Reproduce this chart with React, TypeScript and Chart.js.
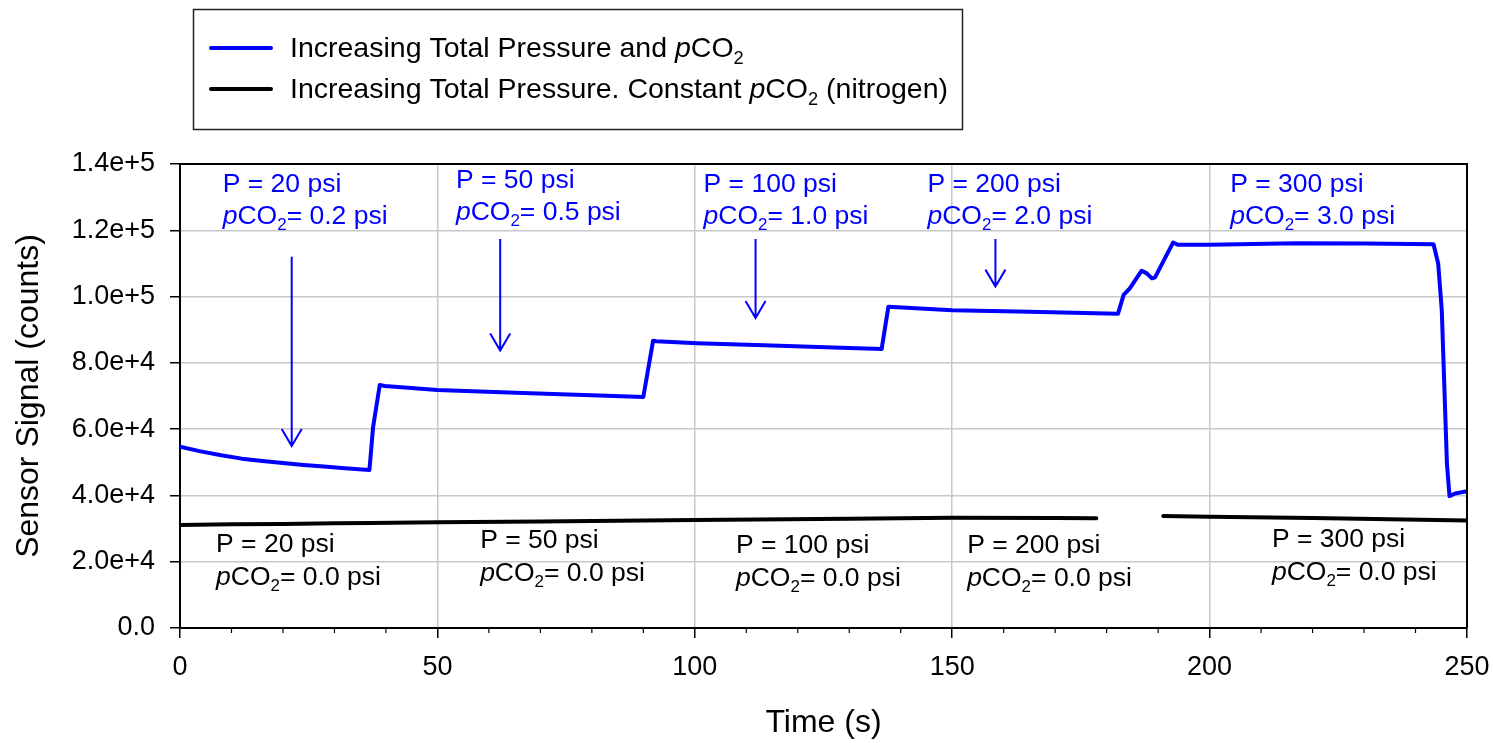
import React, { useEffect, useRef } from 'react';
import { Chart, registerables } from 'chart.js';

Chart.register(...registerables);

const FONT = "'Liberation Sans', Arial, Helvetica, sans-serif";

// Sensor response with rising total pressure and CO2 partial pressure
const blueTimes = [
  0, 4, 8, 12, 16, 20, 24, 28, 32, 36.8, 37.5, 38.8, 39.8, 50, 68, 80, 90, 91.9, 92.5, 100.4, 115,
  126.9, 136.3, 137.6, 150, 165, 182.2, 183.3, 184.5, 186.8, 187.8, 188.8, 189.4, 192.9, 193.9,
  200, 216.9, 230, 243.5, 244.4, 245.1, 246.1, 246.6, 247.7, 250,
];
const blueCounts = [
  54700, 53300, 52100, 51100, 50400, 49800, 49200, 48700, 48200, 47700, 60500, 73300, 73000, 71800,
  70800, 70200, 69700, 86700, 86500, 85900, 85200, 84600, 84200, 96900, 95900, 95400, 94800,
  100500, 102500, 107800, 107000, 105500, 105800, 116300, 115600, 115600, 116100, 116000, 115800,
  110000, 95900, 49700, 39800, 40600, 41300,
];

// Sensor response with rising total pressure in nitrogen (no CO2); gap where logging paused
const blackTimes = [0, 10, 20, 30, 37, 50, 70, 90, 100, 130, 150, 170, 178, 184, 191, 200, 220, 250];
const blackCounts = [
  31100, 31300, 31400, 31600, 31700, 31900, 32100, 32400, 32600, 33000, 33300, 33200, 33100, null,
  33800, 33600, 33200, 32400,
];

const xTicks = [0, 50, 100, 150, 200, 250];
const xMinorTicks = [10, 20, 30, 40, 60, 70, 80, 90, 110, 120, 130, 140, 160, 170, 180, 190, 210, 220, 230, 240];
const yTicks = [0, 20000, 40000, 60000, 80000, 100000, 120000, 140000];
const yTickLabels = ['0.0', '2.0e+4', '4.0e+4', '6.0e+4', '8.0e+4', '1.0e+5', '1.2e+5', '1.4e+5'];

const xTitle = 'Time (s)';
const yTitle = 'Sensor Signal (counts)';

// Step annotations
const totalPressures = ['20', '50', '100', '200', '300'];
const co2Partials = ['0.2', '0.5', '1.0', '2.0', '3.0'];
const co2LabelTimes = [8.3, 53.6, 101.7, 145.2, 204.0];
const co2LabelCounts = [131500, 132700, 131500, 131500, 131500];
const n2Partials = ['0.0', '0.0', '0.0', '0.0', '0.0'];
const n2LabelTimes = [7.0, 58.3, 108.0, 152.9, 212.1];
const n2LabelCounts = [22900, 24100, 22600, 22600, 24400];

const arrowTimes = [21.7, 62.2, 111.8, 158.4];
const arrowFromCounts = [112000, 117400, 117400, 117400];
const arrowToCounts = [54900, 83700, 93500, 103000];

type Seg = { t: string; italic?: boolean; sub?: boolean };

const legendEntries: { color: string; segs: Seg[] }[] = [
  {
    color: '#0000ff',
    segs: [{ t: 'Increasing Total Pressure and ' }, { t: 'p', italic: true }, { t: 'CO' }, { t: '2', sub: true }],
  },
  {
    color: '#000000',
    segs: [
      { t: 'Increasing Total Pressure. Constant ' },
      { t: 'p', italic: true },
      { t: 'CO' },
      { t: '2', sub: true },
      { t: ' (nitrogen)' },
    ],
  },
];

function drawRich(ctx: CanvasRenderingContext2D, x: number, y: number, segs: Seg[], size: number, color: string) {
  let cx = x;
  ctx.save();
  ctx.fillStyle = color;
  ctx.textAlign = 'left';
  ctx.textBaseline = 'alphabetic';
  for (const s of segs) {
    const fs = s.sub ? size * 0.64 : size;
    ctx.font = `${s.italic ? 'italic ' : ''}${fs}px ${FONT}`;
    ctx.fillText(s.t, cx, y + (s.sub ? size * 0.24 : 0));
    cx += ctx.measureText(s.t).width;
  }
  ctx.restore();
}

function stepLines(p: string, pco2: string): Seg[][] {
  return [
    [{ t: `P = ${p} psi` }],
    [{ t: 'p', italic: true }, { t: 'CO' }, { t: '2', sub: true }, { t: `= ${pco2} psi` }],
  ];
}

const overlayPlugin = {
  id: 'overlay',
  afterDatasetsDraw(chart: any) {
    const ctx: CanvasRenderingContext2D = chart.ctx;
    const { left, right, top, bottom } = chart.chartArea;
    const xs = chart.scales.x;
    const ys = chart.scales.y;

    // frame on top and right
    ctx.save();
    ctx.strokeStyle = '#000';
    ctx.lineWidth = 2;
    ctx.beginPath();
    ctx.moveTo(left, top);
    ctx.lineTo(right, top);
    ctx.lineTo(right, bottom);
    ctx.stroke();

    // minor ticks on the time axis
    ctx.lineWidth = 1.2;
    ctx.beginPath();
    for (const t of xMinorTicks) {
      const px = xs.getPixelForValue(t);
      ctx.moveTo(px, bottom);
      ctx.lineTo(px, bottom + 5);
    }
    ctx.stroke();

    // arrows
    ctx.strokeStyle = '#0000ff';
    ctx.lineWidth = 2;
    arrowTimes.forEach((t, i) => {
      const px = xs.getPixelForValue(t);
      const y0 = ys.getPixelForValue(arrowFromCounts[i]);
      const y1 = ys.getPixelForValue(arrowToCounts[i]);
      ctx.beginPath();
      ctx.moveTo(px, y0);
      ctx.lineTo(px, y1);
      ctx.moveTo(px - 10, y1 - 17);
      ctx.lineTo(px, y1);
      ctx.lineTo(px + 10, y1 - 17);
      ctx.stroke();
    });
    ctx.restore();

    // step labels
    const size = 26.5;
    const gap = 31.5;
    totalPressures.forEach((p, i) => {
      const lines = stepLines(p, co2Partials[i]);
      const x = xs.getPixelForValue(co2LabelTimes[i]);
      const y = ys.getPixelForValue(co2LabelCounts[i]);
      drawRich(ctx, x, y, lines[0], size, '#0000ff');
      drawRich(ctx, x, y + gap, lines[1], size, '#0000ff');

      const lines2 = stepLines(p, n2Partials[i]);
      const x2 = xs.getPixelForValue(n2LabelTimes[i]);
      const y2 = ys.getPixelForValue(n2LabelCounts[i]);
      drawRich(ctx, x2, y2, lines2[0], size, '#000');
      drawRich(ctx, x2, y2 + gap + 1.5, lines2[1], size, '#000');
    });
  },
  afterDraw(chart: any) {
    const ctx: CanvasRenderingContext2D = chart.ctx;
    const { left, right, top, bottom } = chart.chartArea;

    // axis titles
    ctx.save();
    ctx.fillStyle = '#000';
    ctx.font = `32px ${FONT}`;
    ctx.textAlign = 'center';
    ctx.textBaseline = 'middle';
    ctx.fillText(xTitle, (left + right) / 2, bottom + 95);
    ctx.translate(left - 151, (top + bottom) / 2);
    ctx.rotate(-Math.PI / 2);
    ctx.fillText(yTitle, 0, 0);
    ctx.restore();

    // legend box
    ctx.save();
    ctx.fillStyle = '#fff';
    ctx.fillRect(193, 9, 769, 120);
    ctx.strokeStyle = '#222';
    ctx.lineWidth = 1.5;
    ctx.strokeRect(193.5, 9.5, 769, 120);
    legendEntries.forEach((e, i) => {
      const cy = 48 + i * 41;
      ctx.strokeStyle = e.color;
      ctx.lineWidth = 4;
      ctx.lineCap = 'round';
      ctx.beginPath();
      ctx.moveTo(211, cy);
      ctx.lineTo(271, cy);
      ctx.stroke();
      drawRich(ctx, 290, cy + 9, e.segs, 28.5, '#000');
    });
    ctx.restore();
  },
};

export default function App() {
  const canvasRef = useRef<HTMLCanvasElement | null>(null);

  useEffect(() => {
    document.body.style.margin = '0';
    const canvas = canvasRef.current;
    if (!canvas) return;

    const chart = new Chart(canvas, {
      type: 'line',
      data: {
        datasets: [
          {
            label: 'Increasing Total Pressure and pCO2',
            data: blueTimes.map((t, i) => ({ x: t, y: blueCounts[i] })),
            borderColor: '#0000ff',
            borderWidth: 4,
            pointRadius: 0,
            tension: 0,
            fill: false,
            borderJoinStyle: 'round',
            borderCapStyle: 'round',
          },
          {
            label: 'Increasing Total Pressure. Constant pCO2 (nitrogen)',
            data: blackTimes.map((t, i) => ({ x: t, y: blackCounts[i] })),
            borderColor: '#000000',
            borderWidth: 4,
            pointRadius: 0,
            tension: 0,
            fill: false,
            spanGaps: false,
            borderJoinStyle: 'round',
            borderCapStyle: 'round',
          },
        ],
      },
      options: {
        responsive: false,
        animation: false,
        events: [],
        layout: { padding: { left: 0, right: 26, top: 164, bottom: 0 } },
        plugins: { legend: { display: false }, tooltip: { enabled: false } },
        scales: {
          x: {
            type: 'linear',
            min: 0,
            max: 250,
            afterBuildTicks: (s: any) => {
              s.ticks = xTicks.map((v) => ({ value: v }));
            },
            afterFit: (s: any) => {
              s.height = 115;
              s.paddingLeft = 0;
              s.paddingRight = 0;
            },
            grid: { color: '#c8c8c8', lineWidth: 1.5, tickColor: '#000', tickLength: 10, tickWidth: 1.5 },
            border: { color: '#000', width: 2 },
            ticks: {
              color: '#000',
              font: { size: 27, family: FONT },
              padding: 13,
              maxRotation: 0,
              autoSkip: false,
              callback: (v: any) => String(v),
            },
          },
          y: {
            type: 'linear',
            min: 0,
            max: 140000,
            afterBuildTicks: (s: any) => {
              s.ticks = yTicks.map((v) => ({ value: v }));
            },
            afterFit: (s: any) => {
              s.width = 180;
              s.paddingTop = 0;
              s.paddingBottom = 0;
            },
            grid: { color: '#c8c8c8', lineWidth: 1.5, tickColor: '#000', tickLength: 10, tickWidth: 1.5 },
            border: { color: '#000', width: 2 },
            ticks: {
              color: '#000',
              font: { size: 27, family: FONT },
              padding: 15,
              autoSkip: false,
              callback: (_v: any, i: number) => yTickLabels[i],
            },
          },
        },
      },
      plugins: [overlayPlugin],
    } as any);

    return () => chart.destroy();
  }, []);

  return <canvas ref={canvasRef} width={1493} height={743} style={{ display: 'block', width: 1493, height: 743 }} />;
}
